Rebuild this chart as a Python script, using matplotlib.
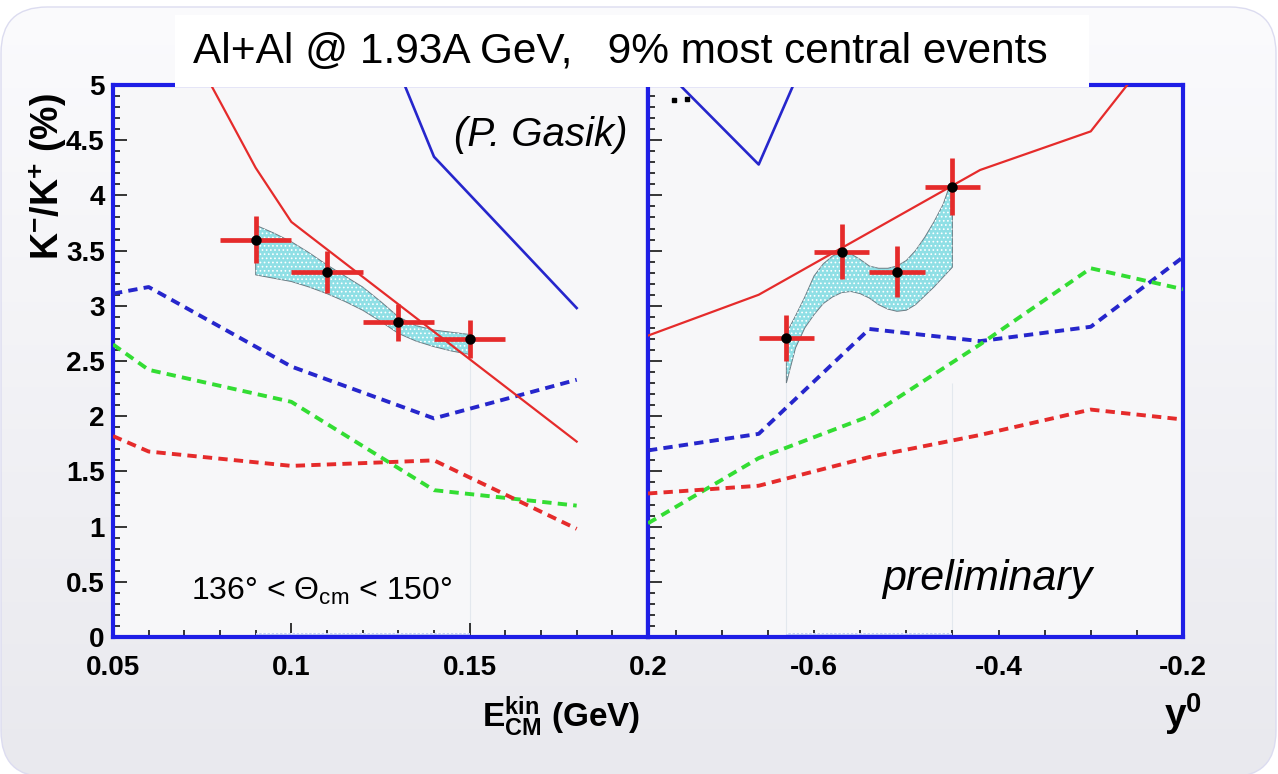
import numpy as np
import matplotlib
matplotlib.use('Agg')
import matplotlib.pyplot as plt
from matplotlib.patches import FancyBboxPatch, Rectangle
from matplotlib.colors import LinearSegmentedColormap
from matplotlib.ticker import MultipleLocator, FuncFormatter

# ---- kinetic energy panel ----
e_bins = [0.09, 0.11, 0.13, 0.15]
e_ratio = [3.60, 3.31, 2.85, 2.70]
e_xerr = [0.01, 0.01, 0.01, 0.01]
e_yerr = [0.21, 0.19, 0.17, 0.17]

e_band_x = [0.090, 0.095, 0.100, 0.105, 0.110, 0.115, 0.120, 0.125, 0.130, 0.135, 0.140, 0.145, 0.150]
e_band_hi = [3.73, 3.66, 3.58, 3.48, 3.37, 3.27, 3.17, 3.04, 2.90, 2.82, 2.78, 2.76, 2.74]
e_band_lo = [3.28, 3.25, 3.22, 3.17, 3.11, 3.04, 2.96, 2.86, 2.75, 2.68, 2.63, 2.59, 2.56]

e_model_x = [0.05, 0.06, 0.10, 0.14, 0.18]
e_blue_dash = [3.11, 3.17, 2.45, 1.98, 2.33]
e_green_dash = [2.65, 2.42, 2.13, 1.33, 1.19]
e_red_dash = [1.82, 1.68, 1.55, 1.60, 0.98]
e_red_x = [0.06, 0.08, 0.09, 0.10, 0.18]
e_red = [6.04, 4.85, 4.25, 3.76, 1.77]
e_blue_x = [0.10, 0.14, 0.18]
e_blue = [7.50, 4.35, 2.98]
e_guides = [0.15]
e_strip = [0.09, 0.15]

# ---- rapidity panel ----
y_bins = [-0.63, -0.57, -0.51, -0.45]
y_ratio = [2.71, 3.49, 3.31, 4.08]
y_xerr = [0.03, 0.03, 0.03, 0.03]
y_yerr = [0.21, 0.25, 0.23, 0.26]

y_band_x = [-0.63, -0.62, -0.61, -0.60, -0.59, -0.58, -0.57, -0.56, -0.55, -0.54,
            -0.53, -0.52, -0.51, -0.50, -0.49, -0.48, -0.47, -0.46, -0.45]
y_band_hi = [2.75, 2.91, 3.08, 3.27, 3.38, 3.45, 3.49, 3.47, 3.42, 3.36,
             3.34, 3.34, 3.36, 3.41, 3.50, 3.62, 3.76, 3.92, 4.16]
y_band_lo = [2.30, 2.62, 2.80, 2.92, 3.02, 3.08, 3.12, 3.13, 3.11, 3.07,
             3.01, 2.97, 2.95, 2.96, 3.01, 3.09, 3.17, 3.26, 3.35]

y_model_x = [-0.78, -0.66, -0.54, -0.42, -0.30, -0.20]
y_blue_dash = [1.69, 1.84, 2.79, 2.68, 2.81, 3.44]
y_green_dash = [1.03, 1.62, 2.00, 2.65, 3.34, 3.15]
y_red_dash = [1.30, 1.37, 1.63, 1.83, 2.06, 1.97]
y_red_x = [-0.78, -0.66, -0.42, -0.30, -0.22]
y_red = [2.73, 3.10, 4.23, 4.58, 5.43]
y_blue_x = [-0.78, -0.66, -0.54]
y_blue = [5.29, 4.28, 6.58]
y_dots_x = [-0.752, -0.738]
y_dots = [4.86, 4.87]
y_guides = [-0.63, -0.45]
y_strip = [-0.63, -0.45]

title = 'Al+Al @ 1.93A GeV,   9% most central events'

plt.rcParams['font.family'] = ['Liberation Sans', 'DejaVu Sans']
plt.rcParams['font.weight'] = 'bold'
plt.rcParams['mathtext.fontset'] = 'custom'
plt.rcParams['mathtext.rm'] = 'Liberation Sans:regular'
plt.rcParams['mathtext.bf'] = 'Liberation Sans:bold'
plt.rcParams['mathtext.it'] = 'Liberation Sans:italic:regular'
plt.rcParams['hatch.linewidth'] = 0.7

W, H = 1278, 774
FRAME = '#1e1ee6'
RED = '#e52b2b'
BLUE = '#2626cc'
GREEN = '#33dd33'
BAND = '#8fdfe5'
DASH = (0, (2.4, 1.6))

fig = plt.figure(figsize=(W / 100, H / 100), dpi=100, facecolor='white')

# slide background: rounded panel with a soft vertical gradient
bg = fig.add_axes([0, 0, 1, 1], zorder=-10)
bg.axis('off')
cmap = LinearSegmentedColormap.from_list('slide', ['#e9e9ee', '#fbfbfd'])
grad = np.linspace(0, 1, 256).reshape(-1, 1)
im = bg.imshow(grad, extent=[0, W, 0, H], origin='lower', aspect='auto', cmap=cmap)
panel = FancyBboxPatch((1, -3), W - 3, H - 7 + 3, boxstyle='round,pad=0,rounding_size=46',
                       facecolor='none', edgecolor='#dcdcf0', lw=1.0)
bg.add_patch(panel)
im.set_clip_path(panel)
bg.set_xlim(0, W)
bg.set_ylim(0, H)

# plot frames in pixel layout
ax_l = fig.add_axes([113 / W, (H - 637) / H, 535 / W, 552 / H])
ax_r = fig.add_axes([648 / W, (H - 637) / H, 535 / W, 552 / H])
fmt = FuncFormatter(lambda v, p: '%g' % round(v, 3))


def draw_panel(ax, bins, ratio, xerr, yerr, bx, bhi, blo, mx, bdash, gdash, rdash,
               rx, rsolid, blx, bsolid, guides, strip):
    ax.set_facecolor('#f7f7f9')
    ax.plot(blx, bsolid, color=BLUE, lw=1.9, zorder=3)
    ax.plot(rx, rsolid, color=RED, lw=1.6, zorder=4)
    for vals, col in ((bdash, BLUE), (gdash, GREEN), (rdash, RED)):
        ax.plot(mx, vals, color=col, lw=2.8, ls=DASH, zorder=3)
    # systematic band
    px = np.r_[bx, bx[::-1]]
    py = np.r_[bhi, blo[::-1]]
    ax.fill(px, py, facecolor=BAND, edgecolor='#6c7c84', lw=0.7, zorder=2)
    ax.fill(px, py, facecolor='none', edgecolor='white', hatch='....', lw=0, zorder=2)
    ax.vlines(guides, 0, min(blo), color='#e3e8ee', lw=0.8, zorder=1)
    ax.fill_between(strip, 0, 0.035, facecolor='#c6d0f2', edgecolor='white',
                    hatch='....', lw=0, zorder=2)
    ax.errorbar(bins, ratio, xerr=xerr, yerr=yerr, fmt='o', color='black', ms=6.5,
                ecolor=RED, elinewidth=3.4, capsize=0, zorder=6)
    ax.set_ylim(0, 5)
    ax.yaxis.set_major_locator(MultipleLocator(0.5))
    ax.yaxis.set_minor_locator(MultipleLocator(0.1))
    ax.xaxis.set_major_formatter(fmt)
    ax.yaxis.set_major_formatter(fmt)
    for sp in ax.spines.values():
        sp.set_color(FRAME)
        sp.set_linewidth(3.0)
    ax.tick_params(which='both', direction='in', color='black', width=1.1,
                   top=False, right=False, labelsize=20)
    ax.tick_params(axis='y', which='major', length=10, pad=6)
    ax.tick_params(axis='y', which='minor', length=5)
    ax.tick_params(axis='x', which='minor', length=5)
    ax.tick_params(axis='x', which='major', pad=13)


draw_panel(ax_l, e_bins, e_ratio, e_xerr, e_yerr, e_band_x, e_band_hi, e_band_lo,
           e_model_x, e_blue_dash, e_green_dash, e_red_dash, e_red_x, e_red,
           e_blue_x, e_blue, e_guides, e_strip)
ax_l.set_xlim(0.05, 0.2)
ax_l.xaxis.set_major_locator(MultipleLocator(0.05))
ax_l.xaxis.set_minor_locator(MultipleLocator(0.01))
ax_l.tick_params(axis='x', which='major', length=10)

draw_panel(ax_r, y_bins, y_ratio, y_xerr, y_yerr, y_band_x, y_band_hi, y_band_lo,
           y_model_x, y_blue_dash, y_green_dash, y_red_dash, y_red_x, y_red,
           y_blue_x, y_blue, y_guides, y_strip)
ax_r.plot(y_dots_x, y_dots, 's', color='black', ms=2.2, zorder=4)
ax_r.set_xlim(-0.78, -0.2)
ax_r.xaxis.set_major_locator(MultipleLocator(0.2))
ax_r.xaxis.set_minor_locator(MultipleLocator(0.05))
ax_r.tick_params(axis='x', which='major', length=5)
ax_r.tick_params(axis='y', labelleft=False)

# axis titles
ax_l.text(-0.083, 0.835, r'$\mathbf{K^{-}/K^{+}}$ (%)', transform=ax_l.transAxes,
          rotation=90, ha='right', va='center', fontsize=27, clip_on=False)
ax_l.text(0.985, -0.163, r'$\mathbf{E_{CM}^{kin}}$ (GeV)', transform=ax_l.transAxes,
          ha='right', va='baseline', fontsize=24, clip_on=False)
ax_r.text(1.036, -0.163, r'$\mathbf{y^{0}}$', transform=ax_r.transAxes,
          ha='right', va='baseline', fontsize=28, clip_on=False)

# annotations
ax_l.text(0.961, 0.909, '(P. Gasik)', transform=ax_l.transAxes, ha='right', va='center',
          fontsize=29, fontstyle='italic', fontweight='normal')
ax_l.text(0.146, 0.067, r'136° < $\Theta_{\mathrm{cm}}$ < 150°', transform=ax_l.transAxes,
          ha='left', va='baseline', fontsize=23, fontweight='normal')
ax_r.text(0.437, 0.085, 'preliminary', transform=ax_r.transAxes, ha='left', va='baseline',
          fontsize=31, fontstyle='italic', fontweight='normal')

# title box over the top of the frame
ov = fig.add_axes([0, 0, 1, 1], zorder=3)
ov.axis('off')
ov.patch.set_visible(False)
ov.set_xlim(0, W)
ov.set_ylim(0, H)
ov.add_patch(Rectangle((175, H - 87), 914, 72, facecolor='white', lw=0))
ov.text(193, H - 63, title, ha='left', va='baseline', fontsize=30.5, fontweight='normal')

fig.savefig('out.png', dpi=100, facecolor='white')
